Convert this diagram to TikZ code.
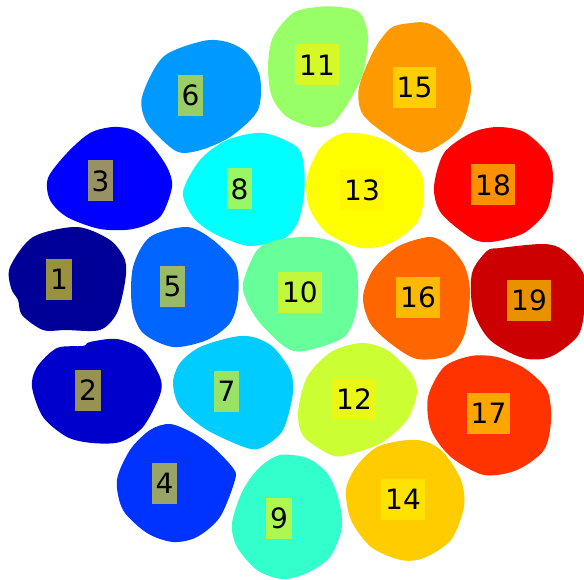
\documentclass[tikz,border=0pt]{standalone}
\usepackage{fontspec}
\setmainfont{DejaVu Sans}
\definecolor{jet1}{RGB}{0,0,153}
\definecolor{jet2}{RGB}{0,0,204}
\definecolor{jet3}{RGB}{0,0,255}
\definecolor{jet4}{RGB}{0,51,255}
\definecolor{jet5}{RGB}{0,102,255}
\definecolor{jet6}{RGB}{0,153,255}
\definecolor{jet7}{RGB}{0,204,255}
\definecolor{jet8}{RGB}{0,255,255}
\definecolor{jet9}{RGB}{51,255,204}
\definecolor{jet10}{RGB}{102,255,153}
\definecolor{jet11}{RGB}{153,255,102}
\definecolor{jet12}{RGB}{204,255,51}
\definecolor{jet13}{RGB}{255,255,0}
\definecolor{jet14}{RGB}{255,204,0}
\definecolor{jet15}{RGB}{255,153,0}
\definecolor{jet16}{RGB}{255,102,0}
\definecolor{jet17}{RGB}{255,51,0}
\definecolor{jet18}{RGB}{255,0,0}
\definecolor{jet19}{RGB}{204,0,0}
\begin{document}
\begin{tikzpicture}[
    x=0.75pt, y=-0.75pt,
    blob/.style={fill=#1, draw=none},
    tag/.style={fill=yellow, fill opacity=0.6, text opacity=1, text=black,
                font=\fontsize{21}{24}\selectfont, inner xsep=2.9pt, inner ysep=0pt,
                minimum height=30.75pt, text depth=0pt},
]

% Canvas
\useasboundingbox (0,0) rectangle (584,580);

% === Blue cells ===
\fill[blob=jet1] plot[smooth cycle] coordinates {(77,227) (33,237) (10,267) (11,288) (18,300) (22,315) (43,330) (66,330) (100,330) (117,313) (125,282) (125,260) (110,240)};
\fill[blob=jet2] plot[smooth cycle] coordinates {(117,339) (90,342) (83,346) (57,348) (37,367) (32,387) (43,417) (67,437) (92,443) (120,442) (143,427) (160,395) (160,377) (143,350)};
\fill[blob=jet3] plot[smooth cycle] coordinates {(113,127) (90,133) (67,153) (48,178) (50,200) (67,217) (100,229) (133,229) (160,217) (172,187) (167,167) (150,143) (133,130)};
\fill[blob=jet4] plot[smooth cycle] coordinates {(170,424) (150,430) (130,450) (117,480) (123,510) (147,533) (173,542) (197,537) (220,517) (235,480) (233,468) (213,447) (193,433)};
\fill[blob=jet5] plot[smooth cycle] coordinates {(187,227) (150,237) (133,267) (132,307) (143,333) (173,347) (207,340) (230,323) (238,298) (236,265) (213,240)};
\fill[blob=jet6] plot[smooth cycle] coordinates {(203,41) (163,57) (142,97) (147,123) (170,147) (184,153) (207,148) (233,135) (258,110) (260,77) (247,53) (227,42)};
\fill[blob=jet7] plot[smooth cycle] coordinates {(233,337) (200,347) (180,363) (173,383) (180,407) (207,430) (247,448) (263,447) (283,430) (293,393) (290,370) (273,347) (253,337)};
\fill[blob=jet8] plot[smooth cycle] coordinates {(263,133) (297,147) (304,168) (304,195) (298,222) (285,238) (260,245) (243,245) (213,233) (193,217) (183,192) (200,160) (227,140)};

% === Green cells ===
\fill[blob=jet9] plot[smooth cycle] coordinates {(280,455) (260,467) (243,490) (232,523) (237,547) (257,570) (282,579) (307,573) (330,557) (342,527) (338,497) (327,473) (307,458)};
\fill[blob=jet10] plot[smooth cycle] coordinates {(311,237) (277,240) (257,250) (243,283) (247,302) (260,323) (285,347) (304,351) (344,337) (357,307) (356,267) (340,245)};
\fill[blob=jet11] plot[smooth cycle] coordinates {(317,7) (293,13) (273,37) (268,67) (272,97) (287,117) (313,127) (333,123) (350,100) (363,73) (368,37) (360,13) (340,7)};
\fill[blob=jet12] plot[smooth cycle] coordinates {(361,343) (331,352) (307,377) (298,413) (304,437) (331,455) (347,455) (381,443) (407,420) (417,393) (411,373) (387,350)};
\fill[blob=jet13] plot[smooth cycle] coordinates {(344,133) (321,147) (307,177) (309,207) (327,233) (361,248) (391,243) (417,223) (424,197) (421,173) (401,150) (377,137)};

% === Orange and red cells ===
\fill[blob=jet14] plot[smooth cycle] coordinates {(407,440) (377,447) (356,467) (346,490) (351,520) (371,547) (401,560) (424,558) (451,540) (464,507) (461,480) (444,453) (427,442)};
\fill[blob=jet15] plot[smooth cycle] coordinates {(411,23) (391,28) (374,50) (359,87) (362,113) (384,133) (417,152) (437,147) (461,127) (471,90) (464,60) (444,33) (427,23)};
\fill[blob=jet16] plot[smooth cycle] coordinates {(430,237) (397,247) (373,270) (363,297) (370,323) (390,343) (417,359) (450,355) (465,333) (470,293) (465,267) (450,247)};
\fill[blob=jet17] plot[smooth cycle] coordinates {(471,356) (444,367) (428,397) (431,430) (451,457) (484,475) (517,470) (544,450) (551,420) (547,390) (524,368) (497,357)};
\fill[blob=jet18] plot[smooth cycle] coordinates {(497,127) (471,133) (444,153) (434,187) (441,213) (471,238) (491,242) (524,233) (547,210) (553,177) (547,153) (524,132)};
\fill[blob=jet19] plot[smooth cycle] coordinates {(500,248) (487,251) (472,273) (473,310) (490,340) (523,358) (550,357) (577,337) (584,313) (584,275) (563,250) (543,244)};

% === Labels ===
\node[tag] (l1) at (59,279.5) {1};
\node[tag] (l2) at (88,390) {2};
\node[tag] (l3) at (100.5,181) {3};
\node[tag] (l4) at (164.5,483.5) {4};
\node[tag] (l5) at (172.5,286.5) {5};
\node[tag] (l6) at (190.5,95.5) {6};
\node[tag] (l7) at (226.5,391.5) {7};
\node[tag] (l8) at (239.5,189) {8};
\node[tag] (l9) at (279,518) {9};
\node[tag] (l10) at (300,292.5) {10};
\node[tag] (l11) at (317,65) {11};
\node[tag] (l12) at (354,399.5) {12};
\node[tag] (l13) at (362,190) {13};
\node[tag] (l14) at (403,499.5) {14};
\node[tag] (l15) at (414.5,87.5) {15};
\node[tag] (l16) at (418,297.5) {16};
\node[tag] (l17) at (488.5,413.5) {17};
\node[tag] (l18) at (493,185) {18};
\node[tag] (l19) at (529,300.5) {19};

\end{tikzpicture}
\end{document}
